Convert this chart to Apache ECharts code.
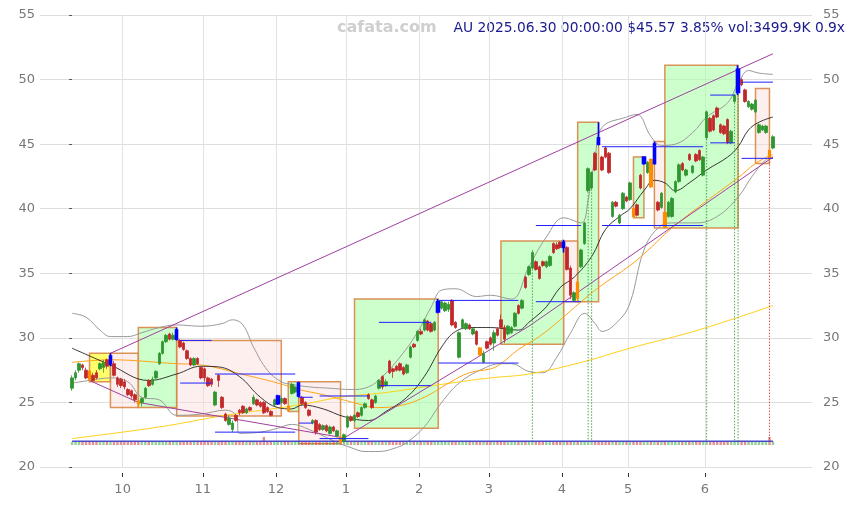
<!DOCTYPE html>
<html><head><meta charset="utf-8">
<script src="https://cdn.jsdelivr.net/npm/echarts@6/dist/echarts.min.js"></script>
<style>html,body{margin:0;padding:0;background:#fff}#c{width:855px;height:507px}</style>
</head><body><div id="c"></div>
<script>
// trading calendar (ASX): first and last session, exchange holidays
const firstDay = '2024-09-10', lastDay = '2025-06-30';
const holidays = ['2024-12-25','2024-12-26','2025-01-01','2025-01-27','2025-04-18','2025-04-21','2025-04-25','2025-06-09'];
// one row per session in order: open, close, low, high, volume(K), flag (b = period high, o = period low)
const candles = [
[26.1,26.9,25.9,27.1,3000,''],[26.9,27.3,26.7,27.5,3000,''],[27.5,28.0,27.3,28.1,3000,''],[27.9,27.7,27.5,28.0,3000,''],[27.5,26.9,26.8,27.7,3000,''],
[27.4,26.8,26.6,27.5,3000,'o'],[27.1,26.7,26.6,27.3,3000,''],[27.3,26.9,26.8,27.5,3000,''],[27.6,28.0,27.5,28.1,3000,''],[27.7,28.1,27.3,28.3,3000,''],
[28.3,27.8,27.6,28.4,3000,''],[28.0,28.6,27.8,28.8,3000,'b'],[28.0,27.1,27.0,28.2,3000,''],[26.9,26.4,26.2,27.0,3000,''],[26.8,26.3,26.1,26.9,3000,''],
[26.6,26.2,26.0,26.8,3000,''],[26.0,25.6,25.5,26.1,3000,''],[25.9,25.5,25.3,26.0,3000,''],[25.6,25.2,25.0,25.7,3000,''],[25.1,24.9,24.6,25.2,3000,'o'],
[25.0,25.3,24.7,25.4,3000,''],[25.4,26.1,25.3,26.2,3000,''],[26.7,26.3,26.2,26.8,3000,''],[26.4,26.8,26.3,27.0,3000,''],[26.9,27.4,26.8,27.5,3000,''],
[28.0,28.8,27.9,28.9,3000,''],[28.8,29.7,28.7,29.8,3000,''],[29.7,30.2,29.6,30.3,3000,''],[30.3,29.9,29.8,30.4,3000,''],[29.9,30.2,29.8,30.4,3000,''],
[29.9,30.6,29.8,30.8,3000,'b'],[29.8,29.3,29.2,29.9,3000,''],[29.6,29.1,29.0,29.7,3000,''],[29.0,28.4,28.3,29.1,3000,''],[28.4,27.9,27.8,28.5,3000,''],
[27.9,28.4,27.8,28.5,3000,''],[28.4,28.0,27.9,28.5,3000,''],[27.7,26.9,26.8,27.8,3000,''],[27.6,26.9,26.6,27.7,3000,''],[26.9,26.3,26.2,27.0,3000,''],
[26.8,26.4,26.2,26.9,3000,''],[24.8,25.8,24.7,25.9,3000,''],[27.1,26.7,26.2,27.2,3000,''],[25.4,24.6,24.5,25.5,3000,''],[24.1,23.6,23.5,24.2,3000,''],
[23.3,23.8,23.2,24.0,3000,''],[22.9,23.4,22.7,23.6,3000,''],[24.0,23.6,23.5,24.1,3000,''],[24.4,24.2,24.0,24.5,3000,''],[24.7,24.2,24.1,24.8,3000,''],
[24.2,24.5,24.1,24.6,3000,''],[24.6,24.4,24.3,24.7,3000,''],[24.9,25.4,24.8,25.6,3000,''],[25.2,24.8,24.7,25.3,3000,''],[25.0,24.7,24.6,25.1,3000,''],
[25.0,24.2,24.1,25.1,8000,''],[24.6,24.3,24.2,24.7,3000,''],[24.3,24.0,23.9,24.4,3000,''],[24.8,25.2,24.7,25.3,3000,''],[24.9,25.5,24.8,25.6,3000,'b'],
[25.0,25.3,24.9,25.4,3000,''],[25.3,24.9,24.8,25.4,3000,''],[24.7,24.4,24.3,24.8,3000,'o'],[25.7,26.4,25.6,26.5,3000,''],[25.8,26.2,25.7,26.3,3000,''],
[25.5,26.5,25.4,26.6,3000,'b'],[25.4,24.9,24.8,25.5,3000,''],[25.0,24.6,24.5,25.1,3000,''],[24.4,24.0,23.9,24.5,3000,''],[23.4,23.6,23.3,23.7,3000,''],
[23.6,22.7,22.5,23.7,3000,''],[23.3,22.9,22.8,23.4,3000,''],[22.9,23.2,22.8,23.3,3000,''],[23.2,22.8,22.7,23.3,3000,''],[22.6,23.1,22.5,23.2,3000,''],
[23.1,22.8,22.7,23.2,3000,''],[22.4,22.8,22.3,22.9,3000,''],[22.3,21.95,21.8,22.4,3000,'o'],[22.0,22.5,21.9,22.6,3000,''],[23.1,23.9,23.0,24.0,3000,''],
[23.9,23.6,23.5,24.0,3000,''],[23.6,24.0,23.5,24.1,3000,''],[24.2,23.9,23.8,24.3,3000,''],[24.0,24.6,23.9,24.7,3000,''],[24.6,24.9,24.5,25.0,3000,''],
[25.6,25.3,25.2,25.7,3000,''],[25.2,24.6,24.5,25.3,3000,''],[25.0,25.5,24.9,25.6,3000,''],[26.1,26.7,26.0,26.8,3000,''],[27.0,26.2,26.0,27.1,3000,''],
[26.3,26.6,26.2,26.8,3000,''],[28.2,27.3,27.2,28.3,3000,''],[27.6,27.4,26.9,27.7,3000,''],[27.8,27.5,27.4,27.9,3000,''],[28.0,27.5,27.4,28.1,3000,''],
[27.7,27.2,27.1,27.8,3000,''],[27.3,27.9,27.2,28.0,3000,''],[28.5,29.3,28.4,29.4,3000,''],[29.5,29.3,29.2,29.6,3000,''],[29.8,30.5,29.7,30.6,3000,''],
[30.5,30.3,30.2,30.7,3000,''],[30.6,31.4,30.5,31.5,3000,''],[31.3,30.6,30.5,31.4,3000,''],[31.1,30.5,30.4,31.2,3000,''],[30.6,31.2,30.5,31.3,3000,''],
[32.0,32.8,31.9,33.0,3000,'b'],[32.3,32.8,32.2,32.9,3000,''],[32.1,32.7,32.0,32.8,3000,''],[32.2,32.6,32.0,32.8,3000,''],[32.9,31.0,30.9,33.0,3000,''],
[31.2,30.8,30.7,31.3,3000,''],[28.5,30.4,28.4,30.5,3000,''],[30.8,31.4,30.7,31.5,3000,''],[30.7,31.1,30.6,31.2,3000,''],[31.0,30.7,30.6,31.1,3000,''],
[30.3,30.7,30.2,30.8,3000,''],[30.5,29.5,29.4,30.6,3000,''],[29.2,28.7,28.6,29.3,3000,'o'],[28.1,28.8,28.05,29.0,3000,''],[29.7,29.2,29.1,29.8,3000,''],
[30.0,29.5,29.4,30.1,3000,''],[29.6,30.4,29.0,30.6,3000,''],[30.7,30.2,30.1,30.8,3000,''],[31.4,30.8,30.7,31.8,3000,''],[30.8,29.9,29.6,31.0,3000,''],
[30.3,30.9,30.2,31.0,3000,''],[30.4,30.8,30.3,30.9,3000,''],[30.9,31.9,30.8,32.0,3000,''],[32.5,31.9,31.8,32.6,3000,''],[32.3,32.9,32.2,33.0,3000,''],
[34.7,33.9,33.8,34.8,3000,''],[34.9,35.5,34.8,35.6,3000,''],[35.4,36.6,35.3,36.8,3000,''],[35.9,35.3,35.2,36.0,3000,''],[35.5,34.6,34.5,35.6,3000,''],
[35.9,35.6,35.5,36.0,3000,''],[35.5,35.9,35.4,36.0,3000,''],[35.6,36.3,35.5,36.4,3000,''],[37.3,36.6,36.5,37.4,3000,''],[37.2,36.9,36.8,37.4,3000,''],
[37.4,37.0,36.9,37.5,3000,''],[37.0,37.4,36.6,37.6,3000,'b'],[37.0,35.3,35.2,37.1,3000,''],[35.4,33.3,33.0,35.6,3000,''],[32.9,33.5,32.85,33.6,3000,''],
[34.3,33.1,32.8,34.5,3000,'o'],[35.5,36.8,35.4,36.9,3000,''],[37.3,38.9,37.2,39.0,3000,''],[41.4,43.1,41.3,43.2,3000,''],[41.6,42.8,41.5,42.9,3000,''],
[44.3,43.0,42.9,44.4,3000,''],[45.5,45.0,44.9,46.7,3000,'b'],[44.0,43.0,42.9,44.1,3000,''],[44.7,44.0,43.9,44.8,3000,''],[44.3,42.8,42.7,44.4,3000,''],
[39.4,40.5,39.3,40.6,3000,''],[40.5,40.2,40.1,40.6,3000,''],[38.9,39.5,38.8,39.6,3000,''],[40.0,41.2,39.9,41.3,3000,''],[40.9,40.6,40.5,41.0,3000,''],
[40.7,42.0,40.6,42.1,3000,''],[40.0,39.4,39.3,40.2,3000,'o'],[40.3,39.5,39.4,40.4,3000,''],[42.6,41.6,41.5,42.7,3000,''],[43.5,44.0,43.4,44.0,3000,'b'],
[42.8,43.6,42.7,43.7,3000,''],[43.8,41.7,41.6,43.9,3000,'o'],[43.5,45.0,43.4,45.2,3000,'b'],[40.5,39.9,39.8,40.6,3000,''],[40.1,41.2,40.0,41.3,3000,''],
[39.7,38.6,38.5,39.8,3000,'o'],[39.4,40.5,39.3,40.6,3000,''],[39.4,40.8,39.3,40.9,3000,''],[41.3,42.1,41.2,42.2,3000,''],[42.1,43.4,42.0,43.5,3000,''],
[43.5,43.0,42.9,43.6,3000,''],[42.6,43.0,42.5,43.1,3000,''],[44.2,43.8,43.7,44.3,3000,''],[42.8,43.3,42.7,43.4,3000,''],[44.2,43.7,43.6,44.3,3000,''],
[44.5,43.8,43.7,44.6,3000,''],[42.6,44.0,42.5,44.1,3000,''],[45.5,47.5,45.4,47.6,3000,''],[47.0,46.0,45.9,47.1,3000,''],[47.2,46.1,46.0,47.3,3000,''],
[47.8,47.1,47.0,47.9,3000,''],[46.5,45.9,45.8,46.6,3000,''],[46.4,45.8,45.7,46.5,3000,''],[46.9,45.1,45.0,47.0,3000,''],[45.1,46.0,45.0,46.1,3000,''],
[48.3,48.8,48.2,48.9,3000,''],[49.0,50.8,48.8,51.1,3000,'b'],[50.0,49.6,49.5,50.1,3000,''],[49.2,48.3,48.2,49.3,3000,''],[47.9,48.3,47.8,48.4,3000,''],
[47.7,48.1,47.6,48.2,3000,''],[47.5,48.4,47.4,48.5,3000,''],[45.9,46.5,45.8,46.6,3000,''],[46.1,46.4,46.0,46.5,3000,''],[45.9,46.4,45.8,46.5,3000,''],
[44.5,43.88,43.85,44.6,8000,'o'],[44.7,45.57,44.6,45.7,3500,'']
];
const priceMin = 20, priceMax = 55, priceStep = 5;
const ma20 = [['2024-09-10',29.2],['2024-09-25',27.9],['2024-10-10',26.7],['2024-10-22',27.2],['2024-10-31',27.8],['2024-11-07',27.75],['2024-11-15',27.0],['2024-11-25',25.4],['2024-12-02',24.6],['2024-12-06',24.5],['2024-12-11',24.8],['2024-12-19',24.5],['2024-12-31',23.9],['2025-01-10',23.6],['2025-01-17',24.3],['2025-01-28',25.4],['2025-02-04',27.0],['2025-02-11',29.3],['2025-02-17',30.5],['2025-02-24',30.8],['2025-03-03',30.8],['2025-03-13',30.6],['2025-03-18',31.2],['2025-03-25',32.4],['2025-03-31',33.9],['2025-04-04',34.7],['2025-04-11',36.3],['2025-04-17',38.4],['2025-04-28',39.4],['2025-05-01',40.0],['2025-05-07',41.4],['2025-05-12',42.2],['2025-05-15',42.0],['2025-05-20',41.4],['2025-05-26',42.0],['2025-06-02',43.0],['2025-06-11',44.0],['2025-06-16',44.8],['2025-06-19',46.1],['2025-06-24',46.7],['2025-06-30',47.1]];
const ma60 = [['2024-09-10',28.1],['2024-09-25',28.3],['2024-10-22',28.0],['2024-10-31',27.9],['2024-11-19',27.1],['2024-12-02',26.5],['2024-12-10',26.0],['2024-12-19',25.6],['2025-01-07',24.9],['2025-01-14',24.6],['2025-01-22',24.7],['2025-02-04',25.4],['2025-02-13',26.5],['2025-02-21',27.3],['2025-03-03',27.6],['2025-03-06',28.0],['2025-03-13',29.1],['2025-03-21',30.1],['2025-03-31',31.4],['2025-04-08',32.8],['2025-04-15',33.9],['2025-05-01',35.6],['2025-05-07',36.5],['2025-05-19',38.5],['2025-05-30',40.4],['2025-06-16',42.4],['2025-06-23',43.5],['2025-06-27',44.1],['2025-06-30',44.2]];
const ma120 = [['2024-09-10',22.2],['2024-10-15',23.1],['2024-11-11',24.0],['2024-12-10',24.8],['2024-12-30',25.4],['2025-01-20',25.8],['2025-02-11',26.4],['2025-03-03',26.9],['2025-03-18',27.2],['2025-04-08',28.1],['2025-05-01',29.2],['2025-05-26',30.4],['2025-06-13',31.5],['2025-06-30',32.5]];
const bandUpper = [['2024-09-10',31.9],['2024-09-16',31.6],['2024-09-20',30.6],['2024-09-25',30.1],['2024-10-02',30.1],['2024-10-08',30.4],['2024-10-15',30.8],['2024-10-22',31.0],['2024-10-31',30.9],['2024-11-08',31.1],['2024-11-13',31.4],['2024-11-18',31.0],['2024-11-21',29.3],['2024-11-27',27.5],['2024-12-03',26.6],['2024-12-06',26.4],['2024-12-13',26.2],['2024-12-23',26.1],['2025-01-03',26.0],['2025-01-10',26.2],['2025-01-16',27.0],['2025-01-23',28.5],['2025-01-31',30.4],['2025-02-06',32.4],['2025-02-11',33.7],['2025-02-17',33.8],['2025-02-25',33.2],['2025-03-03',33.3],['2025-03-11',33.0],['2025-03-18',35.5],['2025-03-25',37.8],['2025-04-01',39.3],['2025-04-08',38.9],['2025-04-10',40.7],['2025-04-14',44.0],['2025-04-16',46.3],['2025-04-30',47.1],['2025-05-05',47.3],['2025-05-09',45.6],['2025-05-14',44.9],['2025-05-20',45.0],['2025-05-27',45.9],['2025-06-02',47.1],['2025-06-11',48.2],['2025-06-16',49.7],['2025-06-19',50.7],['2025-06-24',50.5],['2025-06-30',50.4]];
const bandLower = [['2024-09-10',26.5],['2024-09-17',26.7],['2024-09-25',26.9],['2024-10-02',26.6],['2024-10-08',25.4],['2024-10-15',25.2],['2024-10-22',24.0],['2024-10-31',24.1],['2024-11-11',24.4],['2024-11-14',24.0],['2024-11-15',22.6],['2024-11-25',22.7],['2024-12-02',23.0],['2024-12-06',23.3],['2024-12-13',22.9],['2024-12-27',21.9],['2025-01-03',21.5],['2025-01-09',21.2],['2025-01-15',21.2],['2025-01-22',21.5],['2025-01-28',21.9],['2025-02-04',23.1],['2025-02-11',25.0],['2025-02-18',26.5],['2025-02-26',27.5],['2025-03-06',28.0],['2025-03-11',28.0],['2025-03-18',27.4],['2025-03-24',27.3],['2025-03-28',28.5],['2025-04-03',30.4],['2025-04-09',31.9],['2025-04-14',31.1],['2025-04-16',30.5],['2025-04-28',31.4],['2025-05-01',32.7],['2025-05-07',36.8],['2025-05-13',38.5],['2025-05-19',38.9],['2025-05-28',38.9],['2025-06-05',39.4],['2025-06-16',40.9],['2025-06-20',42.5],['2025-06-26',43.8],['2025-06-30',44.0]];
const trendUpper = [['2024-09-25',28.8],['2025-06-30',52.0]];
const trendLower = [['2024-09-17',26.7],['2024-10-07',25.0],['2024-12-31',22.25],['2025-03-18',30.9],['2025-06-30',44.0]];
// start session, end session, low, high, kind (y yellow, p pink, g green)
const boxes = [
['2024-09-17','2024-09-25',26.6,28.8,'y'],['2024-09-25','2024-10-07',24.6,28.8,'p'],['2024-10-07','2024-10-22',24.6,30.8,'g'],
['2024-10-22','2024-12-03',23.95,29.8,'p'],['2024-12-05','2024-12-10',24.3,26.6,'g'],['2024-12-10','2024-12-30',21.8,26.6,'p'],
['2025-01-06','2025-02-10',23.0,33.0,'g'],['2025-03-06','2025-04-01',29.5,37.5,'g'],['2025-04-01','2025-04-07',32.8,37.5,'p'],
['2025-04-07','2025-04-15',32.8,46.7,'g'],['2025-05-02','2025-05-07',39.3,44.0,'g'],['2025-05-12','2025-05-15',38.5,45.2,'p'],
['2025-05-15','2025-06-16',38.5,51.1,'g'],['2025-06-23','2025-06-27',43.5,49.3,'p']
];
const levels = [
['2024-10-23','2024-11-05',29.8],['2024-10-23','2024-11-05',26.5],['2024-11-06','2024-12-09',27.2],['2024-11-06','2024-12-09',22.7],
['2024-12-10','2024-12-16',25.4],['2024-12-10','2024-12-16',23.4],['2024-12-18','2025-01-10',25.5],['2024-12-18','2025-01-10',22.2],
['2025-01-15','2025-02-06',31.2],['2025-01-15','2025-02-06',26.3],['2025-02-10','2025-03-13',32.9],['2025-02-10','2025-03-13',28.05],
['2025-03-20','2025-04-08',38.7],['2025-03-20','2025-04-08',32.8],['2025-04-16','2025-05-30',44.8],['2025-04-16','2025-05-30',38.7],
['2025-06-03','2025-06-13',48.8],['2025-06-03','2025-06-13',45.1],['2025-06-17','2025-06-30',49.8],['2025-06-17','2025-06-30',43.9]
];
const drops = [['2025-03-19',35.3,'g'],['2025-04-10',41.3,'g'],['2025-04-11',41.5,'g'],['2025-06-02',45.4,'g'],['2025-06-13',48.2,'g'],['2025-06-16',48.8,'g'],['2025-06-27',43.88,'r']];
const baseLevel = 22.0;
const padBefore = 9.2, padAfter = 11.2; // empty sessions of margin on the session scale
const headline = 'AU 2025.06.30 00:00:00 $45.57 3.85% vol:3499.9K 0.9x';
const watermark = 'cafata.com';

// build session list
const pad2 = n => (n < 10 ? '0' : '') + n;
const dates = [];
(function(){
  const [y0,m0,d0] = firstDay.split('-').map(Number), [y1,m1,d1] = lastDay.split('-').map(Number);
  const d = new Date(y0, m0-1, d0), end = new Date(y1, m1-1, d1);
  while (d <= end) {
    const s = d.getFullYear() + '-' + pad2(d.getMonth()+1) + '-' + pad2(d.getDate());
    if (d.getDay() !== 0 && d.getDay() !== 6 && holidays.indexOf(s) < 0) dates.push(s);
    d.setDate(d.getDate() + 1);
  }
})();
const X = s => dates.indexOf(s);
const pts = a => a.filter(p => X(p[0]) >= 0).map(p => [X(p[0]), p[1]]);
const monthTicks = [];
for (let i = 1; i < dates.length; i++) if (dates[i].slice(5,7) !== dates[i-1].slice(5,7)) monthTicks.push(i - 0.5);

const UP = '#2e962e', DOWN = '#c0282a', HI = '#0000ff', LO = '#ff8c00';
const FONT = 'DejaVu Sans';
const n = Math.min(candles.length, dates.length);
const candleData = [], volData = [];
for (let i = 0; i < n; i++) {
  const r = candles[i];
  const it = { value: [i, r[0], r[1], r[2], r[3]] };
  if (r[5]) { const c = r[5] === 'b' ? HI : LO; it.itemStyle = { color: c, color0: c, borderColor: c, borderColor0: c, borderWidth: r[5]==='b'?1.6:1.2 }; }
  candleData.push(it);
  volData.push({ value: [i, r[4]], itemStyle: { color: r[1] >= r[0] ? 'rgba(60,170,60,0.55)' : 'rgba(205,70,70,0.6)' } });
}
const boxFill = { y: 'rgba(255,255,60,0.75)', p: 'rgba(252,220,220,0.45)', g: 'rgba(170,255,170,0.6)' };
const boxData = boxes.map(b => [
  { coord: [X(b[0]), b[3]], itemStyle: { color: boxFill[b[4]], borderColor: 'rgba(215,135,70,0.9)', borderWidth: 1.5 } },
  { coord: [X(b[1]), b[2]] }
]);
const segs = list => { const out = []; list.forEach(s => { out.push([s[0], s[1]], [s[2], s[3]], [s[2], '-']); }); return out; };
const levelPath = segs(levels.map(l => [X(l[0]), l[2], X(l[1]), l[2]]));
const dropPath = c => segs(drops.filter(d => d[2] === c).map(d => [X(d[0]), d[1], X(d[0]), baseLevel]));
const lineS = (name, data, color, width) => ({ name, type: 'line', data: pts(data), smooth: 0.4, showSymbol: false, silent: true, animation: false, z: 3, lineStyle: { color, width } });
const xMin = -padBefore, xMax = n - 1 + padAfter;

const chart = echarts.init(document.getElementById('c'), null, { renderer: 'canvas' });
chart.setOption({
  animation: false,
  backgroundColor: '#fff',
  grid: [{ left: 40, right: 43, top: 15, bottom: 40 }, { left: 40, right: 43, top: 432, bottom: 62 }],
  xAxis: [{
    type: 'value', gridIndex: 0, min: xMin, max: xMax, offset: 6,
    axisLine: { show: false },
    axisTick: { show: true, length: 4, lineStyle: { color: '#333' }, customValues: monthTicks },
    axisLabel: { color: '#777', fontSize: 13, fontFamily: FONT, margin: 10, customValues: monthTicks,
      formatter: v => String(+dates[Math.min(dates.length - 1, Math.ceil(v))].slice(5,7)) },
    splitLine: { show: true, lineStyle: { color: '#e2e2e2', width: 1 } }
  }, {
    type: 'value', gridIndex: 1, min: xMin, max: xMax, show: false
  }],
  yAxis: [{
    type: 'value', gridIndex: 0, position: 'left', min: priceMin, max: priceMax, interval: priceStep,
    axisLine: { show: false }, axisTick: { show: true, length: 3, lineStyle: { color: '#555' } },
    axisLabel: { color: '#777', fontSize: 13, fontFamily: FONT, margin: 5 },
    splitLine: { show: true, lineStyle: { color: '#dedede', width: 1 } }
  }, {
    type: 'value', gridIndex: 0, position: 'right', min: priceMin, max: priceMax, interval: priceStep,
    axisLine: { show: false }, axisTick: { show: false },
    axisLabel: { color: '#777', fontSize: 13, fontFamily: FONT, margin: 11 }, splitLine: { show: false }
  }, {
    type: 'value', gridIndex: 1, min: 0, max: 13000, show: false
  }],
  graphic: [
    { type: 'text', left: 337, top: 20, silent: true, style: { text: watermark, font: 'bold 16px "DejaVu Sans"', fill: '#cfcfcf' } },
    { type: 'text', right: 10, top: 21, silent: true, style: { text: headline, font: '13.8px "DejaVu Sans"', fill: '#1a1a8c' } }
  ],
  series: [
    { name: 'boxes', type: 'line', data: [], silent: true, markArea: { silent: true, data: boxData } },
    lineS('bandUpper', bandUpper, '#9a9a9a', 1),
    lineS('bandLower', bandLower, '#9a9a9a', 1),
    lineS('ma120', ma120, '#ffd11a', 1),
    lineS('ma60', ma60, '#ffa31a', 1),
    lineS('ma20', ma20, '#222222', 0.9),
    { name: 'trendUpper', type: 'line', data: pts(trendUpper), showSymbol: false, silent: true, z: 3, lineStyle: { color: '#a040a0', width: 1 } },
    { name: 'trendLower', type: 'line', data: pts(trendLower), showSymbol: false, silent: true, z: 3, lineStyle: { color: '#a040a0', width: 1 } },
    { name: 'base', type: 'line', data: [[0, baseLevel], [n - 1, baseLevel]], showSymbol: false, silent: true, z: 4, lineStyle: { color: '#4848d0', width: 1.5 } },
    { name: 'dropG', type: 'line', data: dropPath('g'), showSymbol: false, silent: true, connectNulls: false, z: 4, lineStyle: { color: 'rgba(50,150,50,0.85)', width: 1, type: [1.5, 1.5] } },
    { name: 'dropR', type: 'line', data: dropPath('r'), showSymbol: false, silent: true, connectNulls: false, z: 4, lineStyle: { color: 'rgba(210,50,50,0.85)', width: 1, type: [1.5, 1.5] } },
    {
      name: 'AU', type: 'candlestick', data: candleData, encode: { x: 0, y: [1, 2, 3, 4] }, barWidth: 3, z: 5,
      itemStyle: { color: UP, color0: DOWN, borderColor: UP, borderColor0: DOWN, borderWidth: 0.8 }
    },
    { name: 'levels', type: 'line', data: levelPath, showSymbol: false, silent: true, connectNulls: false, z: 6, lineStyle: { color: '#2020ff', width: 1 } },
    { name: 'vol', type: 'bar', xAxisIndex: 1, yAxisIndex: 2, data: volData, barWidth: 2.4, silent: true }
  ]
});
</script></body></html>
